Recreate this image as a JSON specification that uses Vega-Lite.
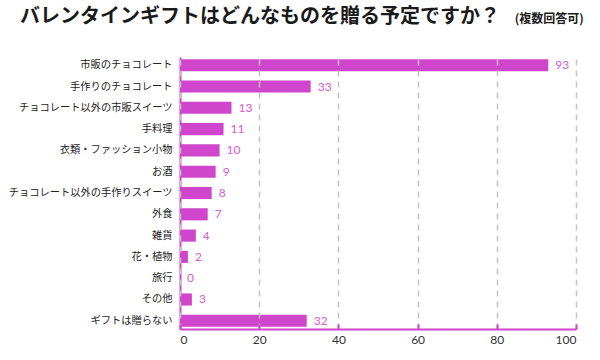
{
  "$schema": "https://vega.github.io/schema/vega-lite/v6.json",
  "width": 396,
  "height": 272,
  "autosize": {"type": "none"},
  "padding": {"left": 180, "top": 57, "right": 24, "bottom": 31},
  "background": "white",
  "title": {
    "text": "バレンタインギフトはどんなものを贈る予定ですか？",
    "subtitle": "​　　　　　　　　　　　　　　　　　　　　　　　　　　　　　　　　　　　　　　　　　 (複数回答可)",
    "anchor": "start",
    "frame": "group",
    "dx": -160,
    "offset": 30,
    "font": "Noto Sans CJK JP",
    "fontSize": 20,
    "fontWeight": "bold",
    "color": "#1a1a1a",
    "subtitleFont": "Noto Sans CJK JP",
    "subtitleFontSize": 12,
    "subtitleFontWeight": "bold",
    "subtitleColor": "#1a1a1a",
    "subtitlePadding": -13
  },
  "data": {
    "values": [
      {"item": "市販のチョコレート", "value": 93},
      {"item": "手作りのチョコレート", "value": 33},
      {"item": "チョコレート以外の市販スイーツ", "value": 13},
      {"item": "手料理", "value": 11},
      {"item": "衣類・ファッション小物", "value": 10},
      {"item": "お酒", "value": 9},
      {"item": "チョコレート以外の手作りスイーツ", "value": 8},
      {"item": "外食", "value": 7},
      {"item": "雑貨", "value": 4},
      {"item": "花・植物", "value": 2},
      {"item": "旅行", "value": 0},
      {"item": "その他", "value": 3},
      {"item": "ギフトは贈らない", "value": 32}
    ]
  },
  "encoding": {
    "y": {
      "field": "item",
      "type": "nominal",
      "sort": null,
      "scale": {"paddingInner": 0.43, "paddingOuter": 0.1},
      "axis": {
        "title": null,
        "ticks": false,
        "grid": false,
        "domainColor": "#cf45cc",
        "domainWidth": 2,
        "labelFont": "Noto Sans CJK JP",
        "labelFontSize": 10.25,
        "labelColor": "#222222",
        "labelPadding": 8
      }
    },
    "x": {
      "field": "value",
      "type": "quantitative",
      "scale": {"domain": [0, 100]},
      "axis": {
        "title": null,
        "values": [0, 20, 40, 60, 80, 100],
        "grid": true,
        "gridColor": "#c4c4c4",
        "gridDash": [6, 5],
        "gridWidth": 1.5,
        "domainColor": "#cf45cc",
        "domainWidth": 2,
        "tickColor": "#cf45cc",
        "tickWidth": 2,
        "tickSize": -5,
        "labelFont": "Lato",
        "labelFontSize": 12,
        "labelColor": "#333333",
        "labelPadding": 10,
        "zindex": 1
      }
    }
  },
  "layer": [
    {"mark": {"type": "bar", "color": "#cf45cc"}},
    {
      "mark": {"type": "text", "align": "left", "baseline": "middle", "dx": 7, "font": "Lato", "fontSize": 12, "color": "#d95bd6"},
      "encoding": {"text": {"field": "value", "type": "quantitative"}}
    }
  ],
  "config": {"view": {"stroke": null}}
}
